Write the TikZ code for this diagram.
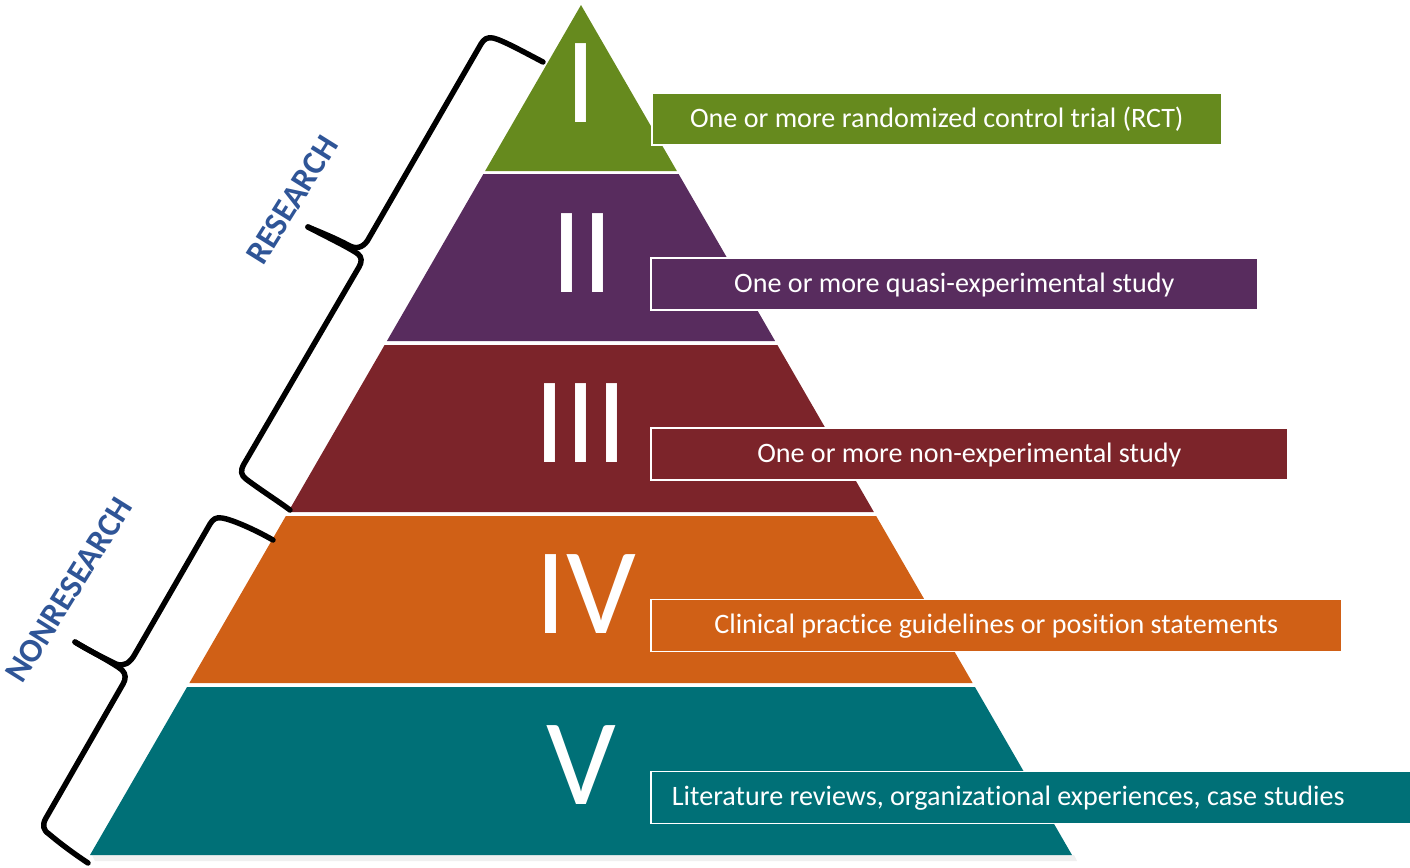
\documentclass[tikz,border=0pt]{standalone}
\usepackage{fontspec}
\setmainfont{Carlito}[Ligatures=NoCommon]
\newfontfamily\sidefont{Carlito-Bold.ttf}
\usepackage{tikz}
\usetikzlibrary{positioning}

\definecolor{levelI}{RGB}{102,138,30}
\definecolor{levelII}{RGB}{88,44,94}
\definecolor{levelIII}{RGB}{124,36,42}
\definecolor{levelIV}{RGB}{208,96,22}
\definecolor{levelV}{RGB}{0,112,119}
\definecolor{labelblue}{RGB}{47,85,151}

\begin{document}
\begin{tikzpicture}[x=0.02cm,y=-0.02cm,
    numeral/.style={text=white,inner sep=0pt,font=\fontsize{70}{70}\selectfont},
    levelbox/.style={draw=white,line width=1pt,text=white,anchor=west,
        minimum height=1.04cm,inner xsep=0pt,text depth=0.06cm,font=\fontsize{16}{16}\selectfont},
    brace/.style={line width=3.1pt,line cap=round,line join=round},
    side/.style={text=labelblue,inner sep=0pt,rotate=58,
        font=\sidefont\fontsize{19}{19}\selectfont}]
    % page frame and slope of the pyramid sides
    \useasboundingbox (0,0) rectangle (1410,867);
    \pgfmathsetmacro{\edgeSlope}{491/850}
    
    % soft shadow under the base
    \fill[black!6] (92,855) -- (1074,855) -- (1077,861) -- (95,861) -- cycle;
    
    % the five levels, apex at (581,5)
    \foreach \yTop/\yBot/\col in {5/171/levelI,174/341/levelII,345/512/levelIII,516/683/levelIV,687/855/levelV}
        \fill[\col] ({581-\edgeSlope*(\yTop-5)},\yTop) -- ({581+\edgeSlope*(\yTop-5)},\yTop)
            -- ({581+\edgeSlope*(\yBot-5)},\yBot) -- ({581-\edgeSlope*(\yBot-5)},\yBot) -- cycle;
    
    % level numbers
    \node[numeral] (numI) at (581,83) {I};
    \node[numeral] (numII) at (582,253) {II};
    \node[numeral] (numIII) at (581,423) {III};
    \node[numeral] (numIV) at (586,594) {IV};
    \node[numeral] (numV) at (581,765) {V};
    
    % descriptions
    \node[levelbox,fill=levelI,minimum width=11.4cm] (boxI) at (651,119) {One or more randomized control trial (RCT)};
    \node[levelbox,fill=levelII,minimum width=12.14cm] (boxII) at (650,284) {One or more quasi-experimental study};
    \node[levelbox,fill=levelIII,minimum width=12.74cm] (boxIII) at (650,454) {One or more non-experimental study};
    \node[levelbox,fill=levelIV,minimum width=13.82cm] (boxIV) at (650,625.5) {Clinical practice guidelines or position statements};
    \node[levelbox,fill=levelV,inner xsep=0.42cm] (boxV) at (650,797.5) {\makebox[14.4cm][l]{Literature reviews, organizational experiences, case studies}};
    
    % brace over levels I--III
    \draw[brace] (543,62) .. controls (522,51) and (502,40) .. (493,38)
        .. controls (487,37) and (484,39) .. (481,44) -- (369,238)
        .. controls (365,246) and (358,250) .. (350,246)
        .. controls (335,238) and (320,232) .. (308,227);
    \draw[brace] (308,227) .. controls (325,236) and (350,248) .. (358,254)
        .. controls (362,257) and (362,262) .. (359,267) -- (244,464)
        .. controls (240,471) and (241,475) .. (246,479)
        .. controls (262,491) and (278,501) .. (290,510);
    
    % brace over levels IV--V
    \draw[brace] (273,540) .. controls (252,528) and (230,519) .. (222,518)
        .. controls (216,517) and (213,519) .. (210,524) -- (135,654)
        .. controls (130,663) and (124,667) .. (116,664)
        .. controls (100,656) and (86,649) .. (75,642);
    \draw[brace] (75,642) .. controls (92,652) and (115,664) .. (122,670)
        .. controls (126,674) and (126,679) .. (123,684) -- (46,818)
        .. controls (42,825) and (43,830) .. (49,834)
        .. controls (62,845) and (76,855) .. (88,863);
    
    \node[side] (research) at (292,200) {RESEARCH};
    \node[side] (nonresearch) at (69,590) {NONRESEARCH};
    
\end{tikzpicture}
\end{document}
